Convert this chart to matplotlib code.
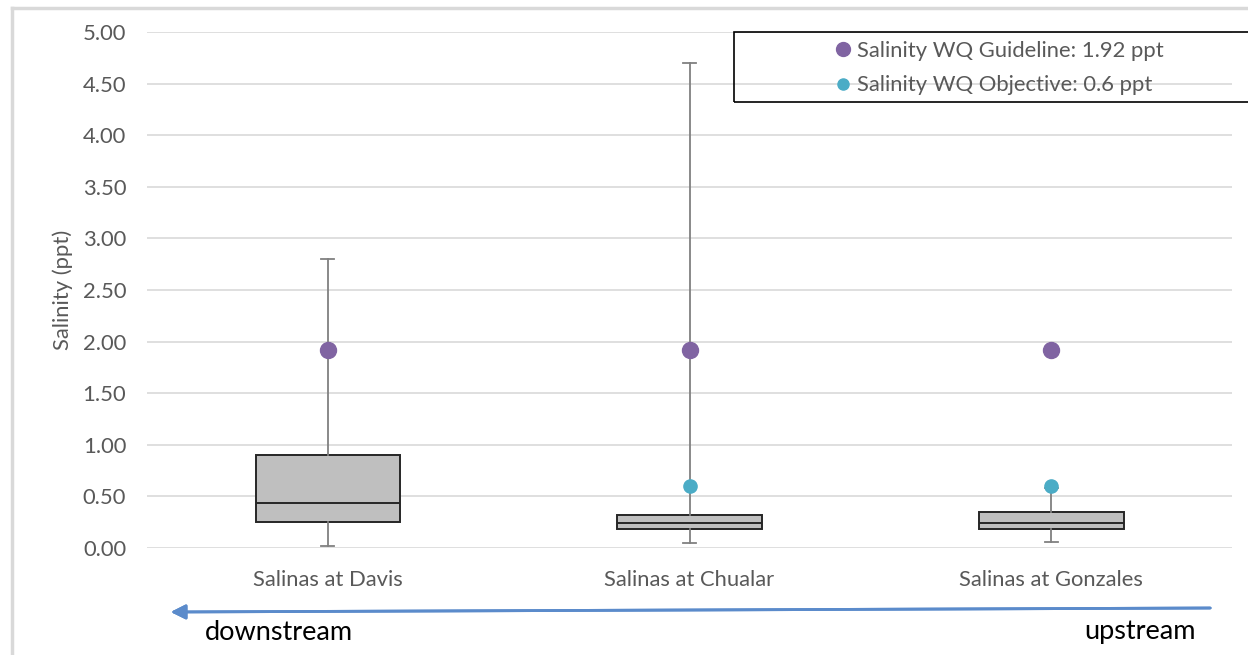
import numpy as np
import matplotlib.pyplot as plt
from matplotlib.lines import Line2D
from matplotlib.patches import Rectangle

plt.rcParams['font.family'] = ['Lato', 'DejaVu Sans']

# data
sites = ['Salinas at Davis', 'Salinas at Chualar', 'Salinas at Gonzales']
whislo = [0.02, 0.05, 0.06]
q1 = [0.25, 0.18, 0.18]
med = [0.44, 0.24, 0.24]
q3 = [0.90, 0.32, 0.35]
whishi = [2.80, 4.70, 0.58]
guideline = [1.92, 1.92, 1.92]
objective = [np.nan, 0.6, 0.6]

fig = plt.figure(figsize=(12.48, 6.55), dpi=100)
W, H = 1248, 655
ax = fig.add_axes([147/W, 1-548/H, (1232-147)/W, (548-32)/H])

stats = []
for i in range(len(sites)):
    stats.append(dict(whislo=whislo[i], q1=q1[i], med=med[i], q3=q3[i],
                      whishi=whishi[i], fliers=[], label=sites[i]))
x = np.arange(len(sites))
ax.bxp(stats, positions=x, widths=0.40, patch_artist=True, showfliers=False,
       boxprops=dict(facecolor='#BFBFBF', edgecolor='#262626', linewidth=1.4),
       medianprops=dict(color='#262626', linewidth=1.4),
       whiskerprops=dict(color='#808080', linewidth=1.3),
       capprops=dict(color='#808080', linewidth=1.3), capwidths=0.036,
       zorder=3)

ax.plot(x, guideline, 'o', color='#8064A2', markersize=11.5, zorder=4)
ax.plot(x, objective, 'o', color='#4BACC6', markersize=9.5, zorder=4)

ax.set_xlim(-0.5, 2.5)
ax.set_ylim(0, 5)
ax.set_yticks(np.arange(0, 5.01, 0.5))
ax.set_yticklabels(['%.2f' % v for v in np.arange(0, 5.01, 0.5)])
ax.set_xticks(x)
ax.set_xticklabels(sites)
ax.grid(axis='y', color='#D9D9D9', linewidth=1.2)
ax.set_axisbelow(True)
for s in ax.spines.values():
    s.set_visible(False)
ax.tick_params(length=0, colors='#595959', labelsize=15.8)
ax.tick_params(axis='y', pad=15)
ax.tick_params(axis='x', pad=16)
ax.set_ylabel('Salinity (ppt)', color='#595959', fontsize=15.8)
ax.yaxis.set_label_coords(-(147-73)/(1232-147), 0.5)

# legend with a hand drawn frame
fig.patches.append(Rectangle((734/W, 1-102/H), (W+10-734)/W, 70/H,
                             transform=fig.transFigure, fill=False,
                             edgecolor='black', linewidth=1.2, zorder=5))
handles = [Line2D([], [], marker='o', ls='', color='#8064A2', markersize=10),
           Line2D([], [], marker='o', ls='', color='#4BACC6', markersize=8)]
fig.legend(handles, ['Salinity WQ Guideline: 1.92 ppt', 'Salinity WQ Objective: 0.6 ppt'],
           loc='upper left', bbox_to_anchor=(812/W, 1-23/H), frameon=False,
           fontsize=15.8, handletextpad=0.05, labelspacing=0.68, labelcolor='#595959',
           handlelength=1.2, borderpad=0.3)

# outer chart border
fig.add_artist(Line2D([12/W, 12/W], [0, 1-8/H], color='#D9D9D9', linewidth=2.5))
fig.add_artist(Line2D([12/W, 1], [1-8/H, 1-8/H], color='#D9D9D9', linewidth=2.5))

# flow direction arrow
fig.add_artist(plt.annotate('', xy=(168/W, 1-612/H), xytext=(1213/W, 1-608/H),
                            xycoords='figure fraction', textcoords='figure fraction',
                            arrowprops=dict(arrowstyle='-|>', color='#5B8BCB', lw=2,
                                            mutation_scale=22)))
fig.text(205/W, 1-632/H, 'downstream', fontsize=19.5, color='black', va='center', ha='left')
fig.text(1196/W, 1-632/H, 'upstream', fontsize=19.5, color='black', va='center', ha='right')

fig.savefig('out.png', dpi=100)
